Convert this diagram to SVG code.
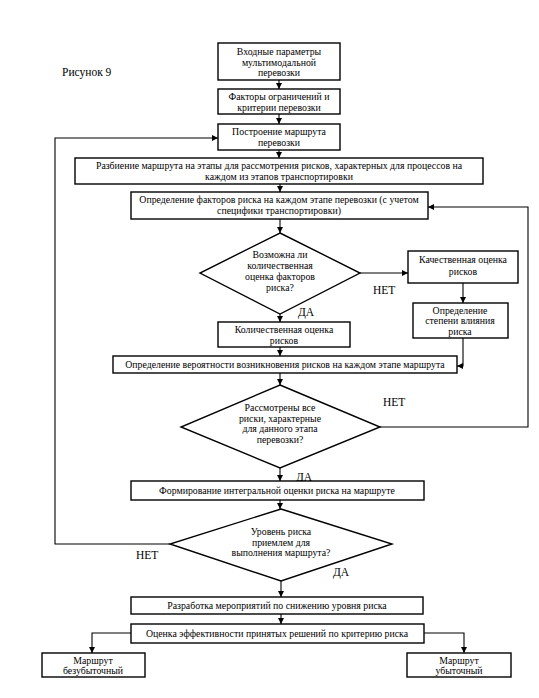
<svg xmlns="http://www.w3.org/2000/svg" width="539" height="698" viewBox="0 0 539 698">
<style>
.b{fill:#fff;stroke:#000;stroke-width:1.4}
.t{font-family:"Liberation Serif","Times New Roman",serif;font-size:9.8px;fill:#000;text-anchor:middle}
.l{font-family:"Liberation Serif","Times New Roman",serif;font-size:11.5px;fill:#000}
.c{fill:none;stroke:#000;stroke-width:1.1}
</style>
<defs>
<marker id="a" viewBox="0 0 10 10" refX="10" refY="5" markerWidth="6" markerHeight="6" orient="auto" markerUnits="userSpaceOnUse">
<path d="M0,0 L10,5 L0,10 z" fill="#000"/>
</marker>
</defs>
<rect width="539" height="698" fill="#fff"/>
<text class="l" x="62" y="76">Рисунок 9</text>
<g id="connectors">
<path class="c" d="M279,80 V89" marker-end="url(#a)"/>
<path class="c" d="M279,114 V124" marker-end="url(#a)"/>
<path class="c" d="M279,150 V158" marker-end="url(#a)"/>
<path class="c" d="M280,184 V192" marker-end="url(#a)"/>
<path class="c" d="M280,219 V233" marker-end="url(#a)"/>
<path class="c" d="M360,273 H408" marker-end="url(#a)"/>
<path class="c" d="M463,283 V303" marker-end="url(#a)"/>
<path class="c" d="M280,314 V322" marker-end="url(#a)"/>
<path class="c" d="M280,347 V356" marker-end="url(#a)"/>
<path class="c" d="M463,338 V366 H457" marker-end="url(#a)"/>
<path class="c" d="M280,373 V385" marker-end="url(#a)"/>
<path class="c" d="M380,427 H528 V207 H428" marker-end="url(#a)"/>
<path class="c" d="M280,468 V481" marker-end="url(#a)"/>
<path class="c" d="M280,500 V509" marker-end="url(#a)"/>
<path class="c" d="M170,544 H55 V138 H218" marker-end="url(#a)"/>
<path class="c" d="M281,581 V597" marker-end="url(#a)"/>
<path class="c" d="M281,614 V624" marker-end="url(#a)"/>
<path class="c" d="M131,633 H92 V653" marker-end="url(#a)"/>
<path class="c" d="M424,633 H464 V653" marker-end="url(#a)"/>
<text class="l" x="373" y="294">НЕТ</text>
<text class="l" x="298" y="316">ДА</text>
<text class="l" x="383" y="406">НЕТ</text>
<text class="l" x="296" y="481">ДА</text>
<text class="l" x="136" y="559">НЕТ</text>
<text class="l" x="333" y="576">ДА</text>
</g>
<g id="n1"><rect class="b" x="218" y="43" width="122" height="37"/>
<text class="t" x="279" y="55">Входные параметры</text><text class="t" x="279" y="65.5">мультимодальной</text><text class="t" x="279" y="76">перевозки</text></g>
<g id="n2"><rect class="b" x="218" y="89" width="122" height="25"/>
<text class="t" x="279" y="100">Факторы ограничений и</text><text class="t" x="279" y="110.5">критерии перевозки</text></g>
<g id="n3"><rect class="b" x="218" y="124" width="122" height="26"/>
<text class="t" x="279" y="135">Построение маршрута</text><text class="t" x="279" y="146">перевозки</text></g>
<g id="n4"><rect class="b" x="75" y="158" width="408" height="26"/>
<text class="t" x="279" y="169">Разбиение маршрута на этапы для рассмотрения рисков, характерных для процессов на</text><text class="t" x="279" y="180">каждом из этапов транспортировки</text></g>
<g id="n5"><rect class="b" x="131" y="192" width="297" height="27"/>
<text class="t" x="279" y="203">Определение факторов риска на каждом этапе перевозки (с учетом</text><text class="t" x="279" y="214">специфики транспортировки)</text></g>
<g id="d1"><polygon class="b" points="280,233 360,273 280,314 200,273"/>
<text class="t" x="280" y="258">Возможна ли</text><text class="t" x="280" y="269">количественная</text><text class="t" x="280" y="280">оценка факторов</text><text class="t" x="280" y="291">риска?</text></g>
<g id="n6"><rect class="b" x="408" y="251" width="110" height="32"/>
<text class="t" x="463" y="263">Качественная оценка</text><text class="t" x="463" y="275">рисков</text></g>
<g id="n7"><rect class="b" x="413" y="303" width="95" height="35"/>
<text class="t" x="460" y="313.5">Определение</text><text class="t" x="460" y="324">степени влияния</text><text class="t" x="460" y="334.5">риска</text></g>
<g id="n8"><rect class="b" x="218" y="322" width="132" height="25"/>
<text class="t" x="284" y="333">Количественная оценка</text><text class="t" x="284" y="343.5">рисков</text></g>
<g id="n9"><rect class="b" x="113" y="356" width="344" height="17"/>
<text class="t" x="285" y="368">Определение вероятности возникновения рисков на каждом этапе маршрута</text></g>
<g id="d2"><polygon class="b" points="280,385 380,427 280,468 181,427"/>
<text class="t" x="280" y="411">Рассмотрены все</text><text class="t" x="280" y="421.5">риски, характерные</text><text class="t" x="280" y="432">для данного этапа</text><text class="t" x="280" y="442.5">перевозки?</text></g>
<g id="n10"><rect class="b" x="131" y="481" width="293" height="19"/>
<text class="t" x="277" y="494">Формирование интегральной оценки риска на маршруте</text></g>
<g id="d3"><polygon class="b" points="281,509 392,544 281,581 170,544"/>
<text class="t" x="281" y="535">Уровень риска</text><text class="t" x="281" y="545.5">приемлем для</text><text class="t" x="281" y="556">выполнения маршрута?</text></g>
<g id="n11"><rect class="b" x="131" y="597" width="292" height="17"/>
<text class="t" x="277" y="609">Разработка мероприятий по снижению уровня риска</text></g>
<g id="n12"><rect class="b" x="131" y="624" width="293" height="19"/>
<text class="t" x="277" y="637">Оценка эффективности принятых решений по критерию риска</text></g>
<g id="n13"><rect class="b" x="42" y="653" width="103" height="24"/>
<text class="t" x="93" y="663.5">Маршрут</text><text class="t" x="93" y="674">безубыточный</text></g>
<g id="n14"><rect class="b" x="407" y="653" width="104" height="24"/>
<text class="t" x="459" y="663.5">Маршрут</text><text class="t" x="459" y="674">убыточный</text></g>
</svg>
